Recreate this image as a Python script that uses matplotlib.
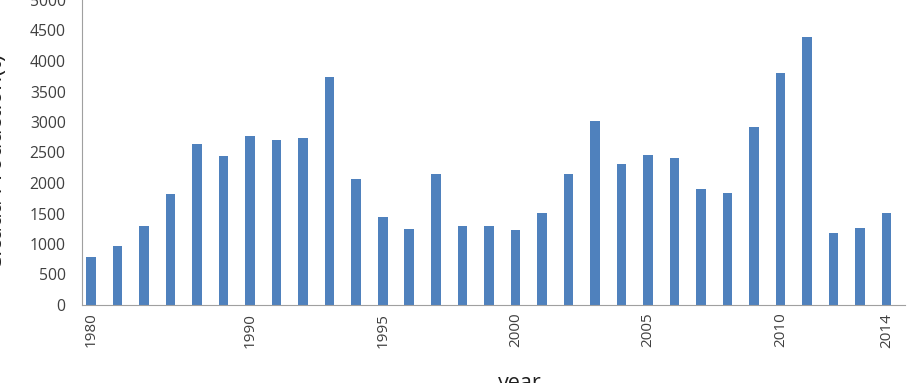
import matplotlib
matplotlib.use("Agg")
import matplotlib.pyplot as plt

plt.rcParams['font.family'] = ['Open Sans', 'DejaVu Sans']

tick_labels = ['1980', '', '', '', '', '', '1990', '', '', '', '', '1995', '', '', '', '',
               '2000', '', '', '', '', '2005', '', '', '', '', '2010', '', '', '', '2014']
production = [782, 972, 1300, 1814, 2639, 2442, 2775, 2710, 2732, 3737, 2065,
              1437, 1240, 2142, 1300, 1300, 1224, 1503, 2142, 3010, 2316,
              2464, 2404, 1896, 1836, 2923, 3797, 4387, 1175, 1257, 1503]
y_ticks = [0, 500, 1000, 1500, 2000, 2500, 3000, 3500, 4000, 4500, 5000]

fig = plt.figure(figsize=(9.08, 3.83), dpi=100)
ax = fig.add_axes([81.7/908, 1 - 305/383, (905 - 81.7)/908, 305/383])

x = list(range(len(production)))
ax.bar(x, production, width=0.36, color='#4F81BD', zorder=2)

ax.set_xlim(-0.35, 30.69)
ax.set_ylim(0, 5000)
ax.set_yticks(y_ticks)
ax.set_yticklabels([str(v) for v in y_ticks], fontsize=11.3, color='#404040')
ax.set_xticks(x)
ax.set_xticklabels(tick_labels, rotation=90, fontsize=11, color='#404040')
ax.tick_params(axis='y', length=0, pad=11.5)
ax.tick_params(axis='x', length=0, pad=5.5)

for s in ['top', 'right']:
    ax.spines[s].set_visible(False)
ax.spines['left'].set_color('#A0A0A0')
ax.spines['bottom'].set_color('#A0A0A0')

fig.text(520/908, 1 - 388.6/383, 'year', ha='center', va='baseline', fontsize=15.5, color='#202020')
fig.text(8/908, 1 - 162.5/383, 'Cicada Production(t)', rotation=90, ha='right', va='center',
         fontsize=16.5, color='#202020')

fig.savefig('out.png', dpi=100)
